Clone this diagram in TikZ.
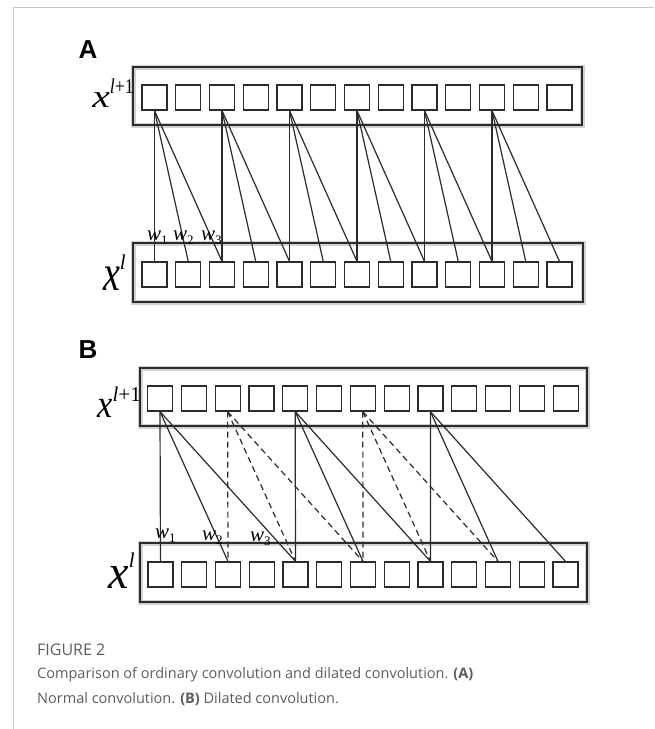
\documentclass[tikz,border=0pt]{standalone}
\usepackage{fontspec}
\usepackage{graphicx}
\setmainfont{Liberation Serif}
\newfontfamily\capfont{Open Sans}
\newfontfamily\panelfont{Liberation Sans}
\usetikzlibrary{calc,positioning}
\definecolor{framegray}{HTML}{c8c8c8}
\definecolor{inkgray}{HTML}{2b2b2b}
\definecolor{glow}{HTML}{b4b4b4}
\definecolor{captext}{HTML}{5c5c5c}
\newcommand{\wlab}[1]{\itshape w\raisebox{-4pt}{\fontsize{13}{13}\selectfont\upshape #1}}

\begin{document}
\begin{tikzpicture}[x=1pt,y=-1pt,
  cell/.style={draw=inkgray, line width=1.2pt, minimum width=25pt, minimum height=25pt, inner sep=0pt},
  layer/.style={draw=inkgray, line width=1.6pt, preaction={draw=glow, line width=5pt, opacity=0.6}},
  link/.style={inkgray, line width=1.2pt},
  solidlink/.style={link},
  dashlink/.style={link, dash pattern=on 6pt off 4pt},
  wt/.style={font=\fontsize{21}{21}\selectfont, inner sep=0pt, anchor=base west},
  panel/.style={font=\panelfont\bfseries\fontsize{26}{26}\selectfont, inner sep=0pt}]
  \useasboundingbox (0,0) rectangle (654,729);
  % page frame
  \draw[framegray, line width=1pt] (654,7) -- (13,7) -- (13,729);

  % panel A
  \node[panel] (lblA) at (88,50) {A};
  \draw[layer] (133,67) rectangle (582,125);
  \draw[layer] (133,243) rectangle (583,302);
  \foreach \i in {0,...,12} {
    \node[cell] (ta\i) at ({154.5+33.75*\i},97.5) {};
    \node[cell] (ba\i) at ({154.5+33.75*\i},274.5) {};
  }
  \foreach \i in {0,2,...,10}
    \foreach \k in {0,1,2} {
      \pgfmathtruncatemacro{\j}{\i+\k}
      \draw[link] (ta\i.south) -- (ba\j.north);
    }
  \node[inner sep=0pt, anchor=base east] (xa1) at (134,107)
    {\fontsize{36}{36}\selectfont\scalebox{1.1}[0.9]{\itshape x}\raisebox{14pt}{\fontsize{21}{21}\selectfont\scalebox{0.85}[1]{\itshape l\upshape +1}}};
  \node[inner sep=0pt, anchor=base east] (xa0) at (126,290)
    {\fontsize{38}{38}\selectfont\scalebox{1}[1.35]{\itshape x}\raisebox{21pt}{\fontsize{21}{21}\selectfont\itshape l}};
  \node[wt] (wa1) at (147,240) {\wlab{1}};
  \node[wt] (wa2) at (173,240) {\wlab{2}};
  \node[wt] (wa3) at (201,240) {\wlab{3}};

  % panel B
  \node[panel] (lblB) at (88,350) {B};
  \draw[layer] (140,368) rectangle (587,426);
  \draw[layer] (140,543) rectangle (587,602);
  \foreach \i in {0,...,12} {
    \node[cell] (tb\i) at ({160+33.8*\i},398.5) {};
    \node[cell] (bb\i) at ({160.5+33.75*\i},574.5) {};
  }
  \foreach \i/\sty in {0/solidlink,2/dashlink,4/solidlink,6/dashlink,8/solidlink}
    \foreach \k in {0,2,4} {
      \pgfmathtruncatemacro{\j}{\i+\k}
      \draw[\sty] (tb\i.south) -- (bb\j.north);
    }
  \node[inner sep=0pt, anchor=base east] (xb1) at (141,417)
    {\fontsize{36}{36}\selectfont\scalebox{0.95}[1.1]{\itshape x}\raisebox{16pt}{\fontsize{21}{21}\selectfont\itshape l\upshape +1}};
  \node[inner sep=0pt, anchor=base east] (xb0) at (135,588)
    {\fontsize{40}{40}\selectfont\scalebox{1.15}[1.2]{\itshape x}\raisebox{21pt}{\fontsize{21}{21}\selectfont\itshape l}};
  \node[wt] (wb1) at (155,538) {\wlab{1}};
  \node[wt] (wb2) at (202,540) {\wlab{2}};
  \node[wt] (wb3) at (250,541) {\wlab{3}};

  % caption
  \node[anchor=base west, inner sep=0pt, text=captext, font=\capfont\fontsize{16}{16}\selectfont] (fig) at (37,655) {FIGURE 2};
  \node[anchor=base west, inner sep=0pt, text=captext, font=\capfont\fontsize{14.5}{14.5}\selectfont] (cap1) at (37,678)
    {Comparison of ordinary convolution and dilated convolution. \textbf{(A)}};
  \node[anchor=base west, inner sep=0pt, text=captext, font=\capfont\fontsize{14.5}{14.5}\selectfont] (cap2) at (37,703)
    {Normal convolution. \textbf{(B)} Dilated convolution.};
\end{tikzpicture}
\end{document}
